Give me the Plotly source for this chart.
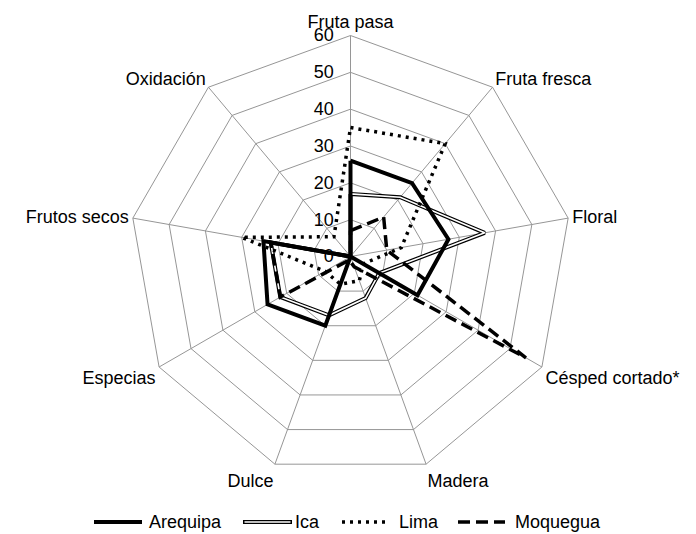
import plotly.graph_objects as go

# aroma descriptors, clockwise from the top
categories = ["Fruta pasa", "Fruta fresca", "Floral", "Césped cortado*", "Madera",
              "Dulce", "Especias", "Frutos secos", "Oxidación"]

# intensity per region
arequipa = [26, 26, 27, 21, 0, 20, 26, 24, 0]
ica = [17, 21, 37, 9, 12, 17, 22, 22, 0]
lima = [35, 40, 14, 4, 7, 8, 8, 30, 7]
moquegua = [7, 14, 10, 55, 3, 1, 22, 22, 0]

radial_ticks = [0, 10, 20, 30, 40, 50, 60]

FONT = "Arial, 'Liberation Sans', sans-serif"
GRID = "#969696"

# page has an 8px body margin, so the figure is a bit smaller than the window
W, H = 688, 526


def closed(vals):
    return vals + vals[:1]


theta = closed(categories)

fig = go.Figure()

# Ica is drawn as a double line: black outline with a white core
fig.add_trace(go.Scatterpolar(r=closed(ica), theta=theta, mode="lines",
                              line=dict(color="black", width=4), showlegend=False))
fig.add_trace(go.Scatterpolar(r=closed(ica), theta=theta, mode="lines",
                              line=dict(color="white", width=1.6), showlegend=False))
fig.add_trace(go.Scatterpolar(r=closed(lima), theta=theta, mode="lines",
                              line=dict(color="black", width=3.5, dash="3px,5px"),
                              showlegend=False))
fig.add_trace(go.Scatterpolar(r=closed(moquegua), theta=theta, mode="lines",
                              line=dict(color="black", width=3.5, dash="12px,6px"),
                              showlegend=False))
fig.add_trace(go.Scatterpolar(r=closed(arequipa), theta=theta, mode="lines",
                              line=dict(color="black", width=4), showlegend=False))

# hand-made legend along the bottom (keeps the double line for Ica)
legend_items = [
    ("Arequipa", dict(color="black", width=4), 86, 134, 139),
    ("Ica", dict(color="black", width=4), 235, 284, 285),
    ("Lima", dict(color="black", width=3.5, dash="3px,5px"), 334, 377, 389),
    ("Moquegua", dict(color="black", width=3.5, dash="12px,6px"), 450, 497, 505),
]
ly = 1 - 514 / H
for name, ln, x0, x1, xt in legend_items:
    fig.add_shape(type="line", xref="paper", yref="paper", x0=x0 / W, x1=x1 / W,
                  y0=ly, y1=ly, line=ln)
    if name == "Ica":
        fig.add_shape(type="line", xref="paper", yref="paper", x0=(x0 + 1.5) / W,
                      x1=(x1 - 1.5) / W, y0=ly, y1=ly, line=dict(color="white", width=1.6))
    fig.add_annotation(x=xt / W, y=ly, xref="paper", yref="paper", text=name,
                       showarrow=False, xanchor="left", yanchor="middle",
                       font=dict(family=FONT, size=18, color="black"))

cx, cy, rad = 342.5, 248.5, 221
fig.update_layout(
    width=W, height=H,
    margin=dict(l=0, r=0, t=0, b=0),
    paper_bgcolor="white",
    plot_bgcolor="white",
    showlegend=False,
    font=dict(family=FONT, size=18, color="black"),
    polar=dict(
        domain=dict(x=[(cx - rad) / W, (cx + rad) / W],
                    y=[(H - cy - rad) / H, (H - cy + rad) / H]),
        bgcolor="white",
        gridshape="linear",
        angularaxis=dict(
            rotation=90, direction="clockwise",
            showline=True, linecolor=GRID, linewidth=1,
            showgrid=True, gridcolor=GRID, gridwidth=1,
            ticks="", tickfont=dict(family=FONT, size=18, color="black"),
        ),
        radialaxis=dict(
            range=[0, 60], tickvals=radial_ticks, angle=90, side="counterclockwise",
            tickangle=90,
            showline=False, showgrid=True, gridcolor=GRID, gridwidth=1,
            ticks="outside", ticklen=10, tickcolor="rgba(0,0,0,0)",
            tickfont=dict(family=FONT, size=18, color="black"),
        ),
    ),
)

fig.write_html("out.html")
